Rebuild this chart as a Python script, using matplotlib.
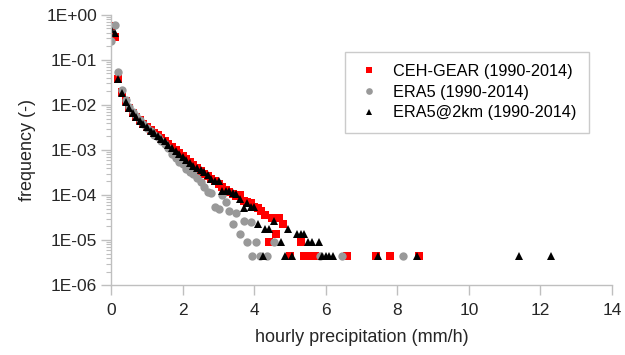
import numpy as np
import matplotlib
matplotlib.use("Agg")
import matplotlib.pyplot as plt
from matplotlib.ticker import FuncFormatter, LogLocator

plt.rcParams['font.family'] = ['Liberation Sans', 'DejaVu Sans']

# CEH-GEAR (1990-2014)
ceh_x = [0.0, 0.1, 0.2, 0.3, 0.4, 0.5, 0.6, 0.7, 0.8, 0.9, 1.0, 1.1, 1.2, 1.3, 1.4,
         1.5, 1.6, 1.7, 1.8, 1.9, 2.0, 2.1, 2.2, 2.3, 2.4, 2.5, 2.6, 2.7, 2.8, 2.9,
         3.0, 3.1, 3.2, 3.3, 3.4, 3.5, 3.6, 3.7, 3.8, 3.9, 4.0, 4.1, 4.2, 4.3, 4.4,
         4.5, 4.6, 4.7, 4.8, 5.0, 5.3, 5.4, 5.5, 5.6, 5.7, 6.6, 7.4, 7.8, 8.6]
ceh_f = [5.7e-1, 3.3e-1, 3.8e-2, 1.9e-2, 1.2e-2, 8.7e-3, 6.6e-3, 5.5e-3, 4.6e-3, 3.8e-3,
         3.2e-3, 2.8e-3, 2.4e-3, 2.1e-3, 1.8e-3, 1.6e-3, 1.35e-3, 1.15e-3, 1.0e-3, 8.5e-4,
         7.4e-4, 6.3e-4, 5.4e-4, 4.6e-4, 4.0e-4, 3.5e-4, 3.0e-4, 2.6e-4, 2.3e-4, 2.0e-4,
         1.75e-4, 1.5e-4, 1.3e-4, 1.15e-4, 1.05e-4, 9.5e-5, 1.0e-4, 7.5e-5, 7.0e-5, 6.6e-5,
         5.5e-5, 5.1e-5, 4.5e-5, 3.6e-5, 9.0e-6, 3.1e-5, 1.35e-5, 3.1e-5, 2.25e-5, 4.5e-6,
         9.0e-6, 4.5e-6, 4.5e-6, 4.5e-6, 4.5e-6, 4.5e-6, 4.5e-6, 4.5e-6, 4.5e-6]

# ERA5 (1990-2014)
era5_x = [0.0, 0.1, 0.2, 0.3, 0.4, 0.5, 0.6, 0.7, 0.8, 0.9, 1.0, 1.1, 1.2, 1.3, 1.4,
          1.5, 1.6, 1.7, 1.8, 1.9, 2.0, 2.1, 2.2, 2.3, 2.4, 2.5, 2.6, 2.7, 2.8, 2.9,
          3.0, 3.1, 3.2, 3.3, 3.4, 3.5, 3.6, 3.7, 3.8, 3.9, 3.95, 4.05, 4.15, 4.35,
          4.55, 5.85, 6.45, 8.15]
era5_f = [2.6e-1, 6.0e-1, 5.4e-2, 2.2e-2, 1.3e-2, 9.0e-3, 7.0e-3, 5.6e-3, 4.6e-3, 3.8e-3,
          3.1e-3, 2.6e-3, 2.2e-3, 1.9e-3, 1.6e-3, 1.35e-3, 1.1e-3, 8.0e-4, 6.5e-4, 5.5e-4,
          5.0e-4, 3.8e-4, 3.2e-4, 2.9e-4, 2.4e-4, 1.9e-4, 1.5e-4, 1.15e-4, 1.1e-4, 5.4e-5,
          5.0e-5, 1.0e-4, 7.0e-5, 4.5e-5, 2.25e-5, 4.0e-5, 1.35e-5, 2.7e-5, 9.0e-6, 2.5e-5,
          4.5e-6, 9.0e-6, 4.5e-6, 4.5e-6, 9.0e-6, 4.5e-6, 4.5e-6, 4.5e-6]

# ERA5@2km (1990-2014)
era2_x = [0.0, 0.1, 0.2, 0.3, 0.4, 0.5, 0.6, 0.7, 0.8, 0.9, 1.0, 1.1, 1.2, 1.3, 1.4,
          1.5, 1.6, 1.7, 1.8, 1.9, 2.0, 2.1, 2.2, 2.3, 2.4, 2.5, 2.6, 2.7, 2.8, 2.9,
          3.0, 3.1, 3.2, 3.3, 3.4, 3.5, 3.6, 3.7, 3.8, 3.9, 4.0, 4.1, 4.25, 4.3, 4.4,
          4.55, 4.75, 4.85, 4.95, 5.05, 5.2, 5.3, 5.4, 5.5, 5.6, 5.8, 5.9, 6.0, 6.1,
          6.2, 7.45, 8.55, 11.4, 12.3]
era2_f = [4.8e-1, 3.9e-1, 3.7e-2, 1.8e-2, 1.15e-2, 8.5e-3, 6.5e-3, 5.4e-3, 4.5e-3, 3.7e-3,
          3.2e-3, 2.7e-3, 2.35e-3, 2.05e-3, 1.75e-3, 1.55e-3, 1.3e-3, 1.1e-3, 9.5e-4, 8.2e-4,
          7.0e-4, 6.0e-4, 5.2e-4, 4.4e-4, 4.0e-4, 3.6e-4, 3.3e-4, 2.8e-4, 2.3e-4, 2.1e-4,
          2.0e-4, 1.2e-4, 1.25e-4, 1.2e-4, 1.1e-4, 1.05e-4, 8.0e-5, 5.1e-5, 6.6e-5, 5.5e-5,
          5.4e-5, 2.25e-5, 4.5e-6, 1.8e-5, 1.8e-5, 2.7e-5, 9.0e-6, 4.5e-6, 1.8e-5, 4.5e-6,
          1.35e-5, 1.35e-5, 1.35e-5, 9.0e-6, 9.0e-6, 9.0e-6, 4.5e-6, 4.5e-6, 4.5e-6,
          4.5e-6, 4.5e-6, 4.5e-6, 4.5e-6, 4.5e-6]

axis_grey = '#bfbfbf'
text_col = '#262626'

fig = plt.figure(figsize=(6.25, 3.55), dpi=100)
ax = fig.add_axes([0.178, 0.197, 0.801, 0.761])

ax.plot(ceh_x, ceh_f, 's', color='#ff0000', markersize=5.5, markeredgewidth=0,
        label='CEH-GEAR (1990-2014)')
ax.plot(era5_x, era5_f, 'o', color='#999999', markersize=6, markeredgewidth=0,
        label='ERA5 (1990-2014)')
ax.plot(era2_x, era2_f, '^', color='black', markersize=6, markeredgewidth=0,
        label='ERA5@2km (1990-2014)')

ax.set_yscale('log')
ax.set_ylim(1e-6, 1)
ax.set_xlim(0, 14)
ax.set_xticks([0, 2, 4, 6, 8, 10, 12, 14])
ax.yaxis.set_major_locator(LogLocator(base=10, numticks=10))
ax.yaxis.set_minor_locator(LogLocator(base=10, subs=np.arange(2, 10), numticks=10))
ax.yaxis.set_major_formatter(FuncFormatter(lambda v, p: "1E%+03d" % int(round(np.log10(v)))))

for s in ['top', 'right']:
    ax.spines[s].set_visible(False)
for s in ['left', 'bottom']:
    ax.spines[s].set_color(axis_grey)
    ax.spines[s].set_linewidth(1)
ax.tick_params(axis='both', which='major', color=axis_grey, length=7, width=1,
               labelsize=12.5, labelcolor=text_col)
ax.tick_params(axis='y', which='minor', color=axis_grey, length=3.5, width=0.8)
ax.tick_params(axis='y', which='major', pad=3)
ax.tick_params(axis='x', which='major', pad=6)

ax.set_xlabel('hourly precipitation (mm/h)', fontsize=13, color=text_col, labelpad=8)
ax.set_ylabel('frequency (-)', fontsize=13, color=text_col, labelpad=8)

leg = ax.legend(loc='upper left', bbox_to_anchor=(0.467, 0.863), borderaxespad=0,
                fontsize=11.7, frameon=True, fancybox=False, edgecolor=axis_grey,
                handlelength=1.5, handletextpad=0.7, borderpad=0.75,
                labelspacing=0.35, markerscale=0.8)
leg.get_frame().set_linewidth(1)

fig.savefig('out.png', dpi=100)
